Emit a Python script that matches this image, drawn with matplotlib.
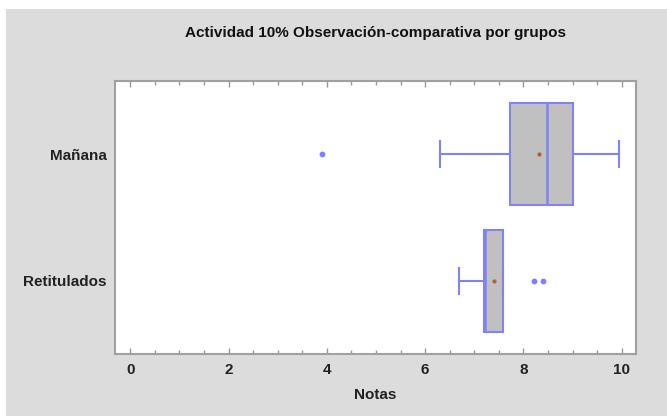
import matplotlib
matplotlib.use("Agg")
import matplotlib.pyplot as plt
from matplotlib.patches import Rectangle
from matplotlib.ticker import MultipleLocator

plt.rcParams['font.family'] = ['Liberation Sans', 'DejaVu Sans']

groups = ["Retitulados", "Mañana"]
q1 = [7.20, 7.73]
medians = [7.22, 8.47]
q3 = [7.59, 9.00]
whis_lo = [6.69, 6.30]
whis_hi = [7.59, 9.94]
means = [7.40, 8.32]
outliers = [[8.21, 8.40], [3.90]]

title = "Actividad 10% Observación-comparativa por grupos"
xlabel = "Notas"
xticks = [0, 2, 4, 6, 8, 10]

W, H = 667, 416
fig = plt.figure(figsize=(W / 100, H / 100), dpi=100, facecolor="white")
fig.patches.append(Rectangle((6 / W, 0), 1 - 6 / W, (H - 9) / H,
                             transform=fig.transFigure, facecolor="#DCDCDC",
                             edgecolor="none", zorder=-10))

ax = fig.add_axes([115 / W, 62 / H, (636 - 115) / W, 273 / H])
ax.set_facecolor("white")

blue = "#8282F8"
stats = []
for i, g in enumerate(groups):
    stats.append(dict(label=g, q1=q1[i], med=medians[i], q3=q3[i],
                      whislo=whis_lo[i], whishi=whis_hi[i],
                      mean=means[i], fliers=outliers[i]))

ax.bxp(stats, positions=[1, 2], widths=0.8, vert=False, patch_artist=True,
       showmeans=True, capwidths=0.21,
       boxprops=dict(facecolor="#C0C0C0", edgecolor=blue, linewidth=1.5),
       medianprops=dict(color=blue, linewidth=1.8),
       whiskerprops=dict(color=blue, linewidth=1.5),
       capprops=dict(color=blue, linewidth=1.5),
       meanprops=dict(marker="o", markersize=2.0, markerfacecolor="#B0603A",
                      markeredgecolor="#B0603A"),
       flierprops=dict(marker="o", markersize=3.2, markerfacecolor="#8080FF",
                       markeredgecolor="#8080FF"))

ax.set_xlim(-0.31, 10.29)
ax.set_ylim(0.425, 2.575)
ax.set_xticks(xticks)
ax.xaxis.set_minor_locator(MultipleLocator(0.5))
ax.tick_params(axis="x", which="major", direction="in", top=True,
               color="#999999", length=4, width=1, labelsize=11,
               labelcolor="#222222", pad=6.5)
ax.tick_params(axis="x", which="minor", direction="in", top=True,
               color="#999999", length=3, width=1)
ax.tick_params(axis="y", length=0, labelsize=11, labelcolor="#222222", pad=5.8)
for lab in ax.get_xticklabels() + ax.get_yticklabels():
    lab.set_fontweight("bold")

for s in ax.spines.values():
    s.set_color("#A0A0A0")
    s.set_linewidth(1.5)

ax.set_xlabel(xlabel, fontsize=11, fontweight="bold", color="#222222",
              labelpad=8)
fig.text(375.5 / W, 1 - 32.5 / H, title, ha="center", va="center",
         fontsize=11, fontweight="bold", color="#111111")

fig.savefig("out.png", dpi=100, facecolor="white")
